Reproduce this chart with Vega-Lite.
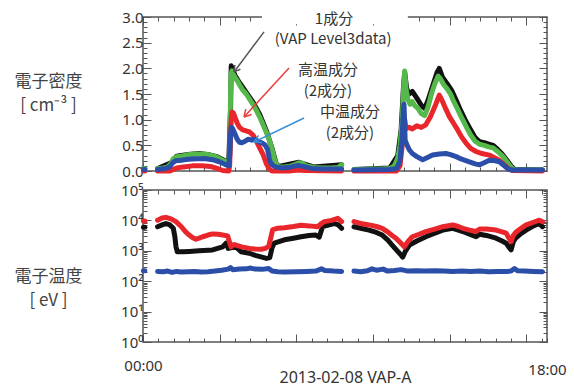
{
"$schema": "https://vega.github.io/schema/vega-lite/v6.json",
"padding": {"left": 13, "top": 9, "right": 0, "bottom": 0},
"bounds": "flush",
"spacing": 19,
"config": {
  "view": {"stroke": "#555555", "strokeWidth": 1.5},
  "axis": {"domain": false, "grid": false, "labelFont": "Noto Sans", "labelFontSize": 15, "labelColor": "#333333", "tickColor": "#555555", "tickWidth": 1, "titleFont": "Noto Sans CJK JP", "titleFontWeight": "normal", "titleColor": "#333333", "labelFlush": false, "labelOverlap": false},
  "text": {"font": "Noto Sans CJK JP"}
},
"datasets": {
"top": [
{"s":"k","p":1,"h":0.02,"v":0.05},{"s":"k","p":1,"h":0.08,"v":0.05},
{"s":"k","p":2,"h":0.65,"v":0.05},{"s":"k","p":2,"h":1.25,"v":0.16},{"s":"k","p":2,"h":1.5,"v":0.29},{"s":"k","p":2,"h":2.0,"v":0.32},{"s":"k","p":2,"h":2.5,"v":0.34},{"s":"k","p":2,"h":3.0,"v":0.31},{"s":"k","p":2,"h":3.3,"v":0.28},{"s":"k","p":2,"h":3.82,"v":0.16},{"s":"k","p":2,"h":3.9,"v":1.2},{"s":"k","p":2,"h":3.93,"v":2.05},{"s":"k","p":2,"h":3.97,"v":2.0},{"s":"k","p":2,"h":4.1,"v":1.86},{"s":"k","p":2,"h":4.3,"v":1.72},{"s":"k","p":2,"h":4.6,"v":1.53},{"s":"k","p":2,"h":4.9,"v":1.34},{"s":"k","p":2,"h":5.2,"v":1.1},{"s":"k","p":2,"h":5.5,"v":0.78},{"s":"k","p":2,"h":5.75,"v":0.44},{"s":"k","p":2,"h":5.93,"v":0.15},{"s":"k","p":2,"h":6.05,"v":0.09},{"s":"k","p":2,"h":6.95,"v":0.17},{"s":"k","p":2,"h":7.6,"v":0.08},{"s":"k","p":2,"h":8.85,"v":0.12},
{"s":"k","p":3,"h":9.4,"v":0.03},{"s":"k","p":3,"h":11.0,"v":0.06},{"s":"k","p":3,"h":11.35,"v":0.3},{"s":"k","p":3,"h":11.5,"v":0.8},{"s":"k","p":3,"h":11.6,"v":1.6},{"s":"k","p":3,"h":11.66,"v":1.92},{"s":"k","p":3,"h":11.75,"v":1.6},{"s":"k","p":3,"h":11.85,"v":1.5},{"s":"k","p":3,"h":12.0,"v":1.55},{"s":"k","p":3,"h":12.2,"v":1.42},{"s":"k","p":3,"h":12.4,"v":1.28},{"s":"k","p":3,"h":12.55,"v":1.22},{"s":"k","p":3,"h":12.7,"v":1.38},{"s":"k","p":3,"h":12.9,"v":1.65},{"s":"k","p":3,"h":13.1,"v":1.92},{"s":"k","p":3,"h":13.2,"v":2.0},{"s":"k","p":3,"h":13.35,"v":1.82},{"s":"k","p":3,"h":13.55,"v":1.7},{"s":"k","p":3,"h":13.75,"v":1.57},{"s":"k","p":3,"h":13.95,"v":1.38},{"s":"k","p":3,"h":14.15,"v":1.18},{"s":"k","p":3,"h":14.35,"v":1.0},{"s":"k","p":3,"h":14.55,"v":0.84},{"s":"k","p":3,"h":14.8,"v":0.65},{"s":"k","p":3,"h":15.0,"v":0.57},{"s":"k","p":3,"h":15.3,"v":0.54},{"s":"k","p":3,"h":15.6,"v":0.5},{"s":"k","p":3,"h":15.8,"v":0.42},{"s":"k","p":3,"h":16.0,"v":0.33},{"s":"k","p":3,"h":16.2,"v":0.22},{"s":"k","p":3,"h":16.4,"v":0.1},{"s":"k","p":3,"h":16.55,"v":0.03},{"s":"k","p":3,"h":17.8,"v":0.02},
{"s":"g","p":1,"h":0.02,"v":0.05},{"s":"g","p":1,"h":0.08,"v":0.05},
{"s":"g","p":2,"h":0.65,"v":0.05},{"s":"g","p":2,"h":0.9,"v":0.06},{"s":"g","p":2,"h":1.1,"v":0.08},{"s":"g","p":2,"h":1.25,"v":0.15},{"s":"g","p":2,"h":1.35,"v":0.24},{"s":"g","p":2,"h":1.5,"v":0.28},{"s":"g","p":2,"h":1.7,"v":0.29},{"s":"g","p":2,"h":1.9,"v":0.31},{"s":"g","p":2,"h":2.1,"v":0.32},{"s":"g","p":2,"h":2.3,"v":0.33},{"s":"g","p":2,"h":2.5,"v":0.33},{"s":"g","p":2,"h":2.7,"v":0.33},{"s":"g","p":2,"h":2.9,"v":0.32},{"s":"g","p":2,"h":3.1,"v":0.3},{"s":"g","p":2,"h":3.3,"v":0.27},{"s":"g","p":2,"h":3.5,"v":0.22},{"s":"g","p":2,"h":3.7,"v":0.18},{"s":"g","p":2,"h":3.82,"v":0.15},{"s":"g","p":2,"h":3.86,"v":0.3},{"s":"g","p":2,"h":3.88,"v":0.8},{"s":"g","p":2,"h":3.9,"v":1.5},{"s":"g","p":2,"h":3.92,"v":1.88},{"s":"g","p":2,"h":3.96,"v":1.95},{"s":"g","p":2,"h":4.0,"v":1.9},{"s":"g","p":2,"h":4.1,"v":1.82},{"s":"g","p":2,"h":4.2,"v":1.76},{"s":"g","p":2,"h":4.3,"v":1.68},{"s":"g","p":2,"h":4.44,"v":1.58},{"s":"g","p":2,"h":4.6,"v":1.5},{"s":"g","p":2,"h":4.75,"v":1.4},{"s":"g","p":2,"h":4.9,"v":1.3},{"s":"g","p":2,"h":5.04,"v":1.19},{"s":"g","p":2,"h":5.2,"v":1.05},{"s":"g","p":2,"h":5.35,"v":0.9},{"s":"g","p":2,"h":5.5,"v":0.75},{"s":"g","p":2,"h":5.63,"v":0.6},{"s":"g","p":2,"h":5.75,"v":0.42},{"s":"g","p":2,"h":5.85,"v":0.25},{"s":"g","p":2,"h":5.93,"v":0.14},{"s":"g","p":2,"h":6.05,"v":0.08},{"s":"g","p":2,"h":6.3,"v":0.08},{"s":"g","p":2,"h":6.6,"v":0.1},{"s":"g","p":2,"h":6.8,"v":0.13},{"s":"g","p":2,"h":6.95,"v":0.16},{"s":"g","p":2,"h":7.1,"v":0.15},{"s":"g","p":2,"h":7.3,"v":0.1},{"s":"g","p":2,"h":7.6,"v":0.07},{"s":"g","p":2,"h":8.0,"v":0.06},{"s":"g","p":2,"h":8.4,"v":0.06},{"s":"g","p":2,"h":8.7,"v":0.07},{"s":"g","p":2,"h":8.85,"v":0.12},
{"s":"g","p":3,"h":9.4,"v":0.03},{"s":"g","p":3,"h":9.8,"v":0.03},{"s":"g","p":3,"h":10.2,"v":0.04},{"s":"g","p":3,"h":10.6,"v":0.04},{"s":"g","p":3,"h":11.0,"v":0.05},{"s":"g","p":3,"h":11.2,"v":0.1},{"s":"g","p":3,"h":11.35,"v":0.25},{"s":"g","p":3,"h":11.45,"v":0.5},{"s":"g","p":3,"h":11.55,"v":1.0},{"s":"g","p":3,"h":11.62,"v":1.7},{"s":"g","p":3,"h":11.66,"v":1.95},{"s":"g","p":3,"h":11.72,"v":1.6},{"s":"g","p":3,"h":11.8,"v":1.4},{"s":"g","p":3,"h":11.9,"v":1.3},{"s":"g","p":3,"h":12.0,"v":1.35},{"s":"g","p":3,"h":12.1,"v":1.28},{"s":"g","p":3,"h":12.25,"v":1.22},{"s":"g","p":3,"h":12.4,"v":1.12},{"s":"g","p":3,"h":12.55,"v":1.08},{"s":"g","p":3,"h":12.7,"v":1.25},{"s":"g","p":3,"h":12.85,"v":1.5},{"s":"g","p":3,"h":13.0,"v":1.7},{"s":"g","p":3,"h":13.15,"v":1.85},{"s":"g","p":3,"h":13.25,"v":1.8},{"s":"g","p":3,"h":13.4,"v":1.68},{"s":"g","p":3,"h":13.55,"v":1.6},{"s":"g","p":3,"h":13.7,"v":1.5},{"s":"g","p":3,"h":13.85,"v":1.35},{"s":"g","p":3,"h":14.0,"v":1.22},{"s":"g","p":3,"h":14.15,"v":1.08},{"s":"g","p":3,"h":14.3,"v":0.95},{"s":"g","p":3,"h":14.45,"v":0.82},{"s":"g","p":3,"h":14.6,"v":0.7},{"s":"g","p":3,"h":14.8,"v":0.58},{"s":"g","p":3,"h":15.0,"v":0.52},{"s":"g","p":3,"h":15.2,"v":0.5},{"s":"g","p":3,"h":15.4,"v":0.47},{"s":"g","p":3,"h":15.6,"v":0.45},{"s":"g","p":3,"h":15.8,"v":0.38},{"s":"g","p":3,"h":16.0,"v":0.3},{"s":"g","p":3,"h":16.15,"v":0.22},{"s":"g","p":3,"h":16.3,"v":0.13},{"s":"g","p":3,"h":16.45,"v":0.05},{"s":"g","p":3,"h":16.6,"v":0.02},{"s":"g","p":3,"h":17.0,"v":0.02},{"s":"g","p":3,"h":17.4,"v":0.02},{"s":"g","p":3,"h":17.8,"v":0.02},
{"s":"r","p":1,"h":0.02,"v":0.0},{"s":"r","p":1,"h":0.08,"v":0.0},
{"s":"r","p":2,"h":0.65,"v":0.0},{"s":"r","p":2,"h":1.2,"v":0.0},{"s":"r","p":2,"h":1.35,"v":0.03},{"s":"r","p":2,"h":1.5,"v":0.06},{"s":"r","p":2,"h":1.8,"v":0.08},{"s":"r","p":2,"h":2.2,"v":0.1},{"s":"r","p":2,"h":2.6,"v":0.1},{"s":"r","p":2,"h":3.0,"v":0.09},{"s":"r","p":2,"h":3.3,"v":0.05},{"s":"r","p":2,"h":3.55,"v":0.01},{"s":"r","p":2,"h":3.82,"v":0.0},{"s":"r","p":2,"h":3.86,"v":0.1},{"s":"r","p":2,"h":3.9,"v":0.6},{"s":"r","p":2,"h":3.93,"v":1.0},{"s":"r","p":2,"h":3.97,"v":1.15},{"s":"r","p":2,"h":4.03,"v":1.13},{"s":"r","p":2,"h":4.12,"v":1.02},{"s":"r","p":2,"h":4.2,"v":0.93},{"s":"r","p":2,"h":4.3,"v":0.85},{"s":"r","p":2,"h":4.45,"v":0.8},{"s":"r","p":2,"h":4.6,"v":0.78},{"s":"r","p":2,"h":4.75,"v":0.76},{"s":"r","p":2,"h":4.9,"v":0.7},{"s":"r","p":2,"h":5.05,"v":0.58},{"s":"r","p":2,"h":5.2,"v":0.45},{"s":"r","p":2,"h":5.35,"v":0.32},{"s":"r","p":2,"h":5.5,"v":0.14},{"s":"r","p":2,"h":5.62,"v":0.04},{"s":"r","p":2,"h":5.75,"v":0.0},{"s":"r","p":2,"h":6.5,"v":0.0},{"s":"r","p":2,"h":6.9,"v":0.02},{"s":"r","p":2,"h":7.2,"v":0.01},{"s":"r","p":2,"h":8.85,"v":0.0},
{"s":"r","p":3,"h":9.4,"v":0.0},{"s":"r","p":3,"h":11.3,"v":0.0},{"s":"r","p":3,"h":11.45,"v":0.1},{"s":"r","p":3,"h":11.55,"v":0.5},{"s":"r","p":3,"h":11.62,"v":0.9},{"s":"r","p":3,"h":11.66,"v":1.0},{"s":"r","p":3,"h":11.72,"v":0.82},{"s":"r","p":3,"h":11.85,"v":0.85},{"s":"r","p":3,"h":12.0,"v":0.82},{"s":"r","p":3,"h":12.2,"v":0.88},{"s":"r","p":3,"h":12.4,"v":0.85},{"s":"r","p":3,"h":12.6,"v":0.9},{"s":"r","p":3,"h":12.8,"v":1.05},{"s":"r","p":3,"h":13.0,"v":1.25},{"s":"r","p":3,"h":13.2,"v":1.48},{"s":"r","p":3,"h":13.35,"v":1.35},{"s":"r","p":3,"h":13.5,"v":1.2},{"s":"r","p":3,"h":13.65,"v":1.06},{"s":"r","p":3,"h":13.85,"v":0.92},{"s":"r","p":3,"h":14.02,"v":0.8},{"s":"r","p":3,"h":14.2,"v":0.66},{"s":"r","p":3,"h":14.4,"v":0.54},{"s":"r","p":3,"h":14.6,"v":0.44},{"s":"r","p":3,"h":14.84,"v":0.38},{"s":"r","p":3,"h":15.1,"v":0.34},{"s":"r","p":3,"h":15.43,"v":0.31},{"s":"r","p":3,"h":15.7,"v":0.25},{"s":"r","p":3,"h":15.9,"v":0.2},{"s":"r","p":3,"h":16.1,"v":0.12},{"s":"r","p":3,"h":16.3,"v":0.04},{"s":"r","p":3,"h":16.45,"v":0.01},{"s":"r","p":3,"h":17.8,"v":0.0},
{"s":"b","p":1,"h":0.02,"v":0.03},{"s":"b","p":1,"h":0.08,"v":0.03},
{"s":"b","p":2,"h":0.65,"v":0.03},{"s":"b","p":2,"h":1.0,"v":0.05},{"s":"b","p":2,"h":1.2,"v":0.08},{"s":"b","p":2,"h":1.3,"v":0.15},{"s":"b","p":2,"h":1.45,"v":0.2},{"s":"b","p":2,"h":1.7,"v":0.21},{"s":"b","p":2,"h":2.0,"v":0.23},{"s":"b","p":2,"h":2.4,"v":0.24},{"s":"b","p":2,"h":2.8,"v":0.24},{"s":"b","p":2,"h":3.1,"v":0.22},{"s":"b","p":2,"h":3.4,"v":0.18},{"s":"b","p":2,"h":3.65,"v":0.13},{"s":"b","p":2,"h":3.82,"v":0.1},{"s":"b","p":2,"h":3.86,"v":0.3},{"s":"b","p":2,"h":3.9,"v":0.7},{"s":"b","p":2,"h":3.93,"v":0.85},{"s":"b","p":2,"h":4.0,"v":0.82},{"s":"b","p":2,"h":4.1,"v":0.72},{"s":"b","p":2,"h":4.2,"v":0.62},{"s":"b","p":2,"h":4.3,"v":0.56},{"s":"b","p":2,"h":4.4,"v":0.55},{"s":"b","p":2,"h":4.55,"v":0.58},{"s":"b","p":2,"h":4.7,"v":0.62},{"s":"b","p":2,"h":4.85,"v":0.6},{"s":"b","p":2,"h":5.0,"v":0.62},{"s":"b","p":2,"h":5.15,"v":0.57},{"s":"b","p":2,"h":5.3,"v":0.55},{"s":"b","p":2,"h":5.45,"v":0.5},{"s":"b","p":2,"h":5.55,"v":0.42},{"s":"b","p":2,"h":5.65,"v":0.2},{"s":"b","p":2,"h":5.75,"v":0.12},{"s":"b","p":2,"h":5.9,"v":0.08},{"s":"b","p":2,"h":6.2,"v":0.06},{"s":"b","p":2,"h":6.6,"v":0.08},{"s":"b","p":2,"h":6.9,"v":0.11},{"s":"b","p":2,"h":7.15,"v":0.09},{"s":"b","p":2,"h":7.5,"v":0.05},{"s":"b","p":2,"h":8.0,"v":0.04},{"s":"b","p":2,"h":8.5,"v":0.04},{"s":"b","p":2,"h":8.85,"v":0.04},
{"s":"b","p":3,"h":9.4,"v":0.02},{"s":"b","p":3,"h":11.0,"v":0.03},{"s":"b","p":3,"h":11.3,"v":0.05},{"s":"b","p":3,"h":11.45,"v":0.2},{"s":"b","p":3,"h":11.55,"v":0.7},{"s":"b","p":3,"h":11.6,"v":1.2},{"s":"b","p":3,"h":11.63,"v":1.3},{"s":"b","p":3,"h":11.68,"v":0.6},{"s":"b","p":3,"h":11.75,"v":0.52},{"s":"b","p":3,"h":11.87,"v":0.41},{"s":"b","p":3,"h":12.0,"v":0.34},{"s":"b","p":3,"h":12.2,"v":0.28},{"s":"b","p":3,"h":12.46,"v":0.22},{"s":"b","p":3,"h":12.7,"v":0.27},{"s":"b","p":3,"h":12.9,"v":0.31},{"s":"b","p":3,"h":13.2,"v":0.33},{"s":"b","p":3,"h":13.5,"v":0.34},{"s":"b","p":3,"h":13.7,"v":0.32},{"s":"b","p":3,"h":13.95,"v":0.28},{"s":"b","p":3,"h":14.2,"v":0.23},{"s":"b","p":3,"h":14.54,"v":0.18},{"s":"b","p":3,"h":14.8,"v":0.14},{"s":"b","p":3,"h":15.0,"v":0.12},{"s":"b","p":3,"h":15.2,"v":0.16},{"s":"b","p":3,"h":15.43,"v":0.21},{"s":"b","p":3,"h":15.7,"v":0.2},{"s":"b","p":3,"h":15.88,"v":0.18},{"s":"b","p":3,"h":16.1,"v":0.1},{"s":"b","p":3,"h":16.3,"v":0.03},{"s":"b","p":3,"h":16.5,"v":0.02},{"s":"b","p":3,"h":17.8,"v":0.02}
],
"bot": [
{"s":"k","p":1,"h":0.02,"t":6000},{"s":"k","p":1,"h":0.08,"t":6000},
{"s":"k","p":2,"h":0.65,"t":6200},{"s":"k","p":2,"h":0.85,"t":7100},{"s":"k","p":2,"h":1.02,"t":7900},{"s":"k","p":2,"h":1.2,"t":7100},{"s":"k","p":2,"h":1.35,"t":5500},{"s":"k","p":2,"h":1.42,"t":2900},{"s":"k","p":2,"h":1.47,"t":1350},{"s":"k","p":2,"h":1.53,"t":930},{"s":"k","p":2,"h":1.8,"t":930},{"s":"k","p":2,"h":2.06,"t":950},{"s":"k","p":2,"h":2.5,"t":1000},{"s":"k","p":2,"h":3.1,"t":1070},{"s":"k","p":2,"h":3.55,"t":1350},{"s":"k","p":2,"h":3.7,"t":1780},{"s":"k","p":2,"h":3.8,"t":1200},{"s":"k","p":2,"h":3.92,"t":1260},{"s":"k","p":2,"h":4.14,"t":1350},{"s":"k","p":2,"h":4.37,"t":930},{"s":"k","p":2,"h":4.74,"t":830},{"s":"k","p":2,"h":5.0,"t":710},{"s":"k","p":2,"h":5.26,"t":630},{"s":"k","p":2,"h":5.5,"t":560},{"s":"k","p":2,"h":5.65,"t":600},{"s":"k","p":2,"h":5.75,"t":1260},{"s":"k","p":2,"h":5.85,"t":1780},{"s":"k","p":2,"h":6.3,"t":2300},{"s":"k","p":2,"h":6.7,"t":2600},{"s":"k","p":2,"h":7.04,"t":2900},{"s":"k","p":2,"h":7.4,"t":3200},{"s":"k","p":2,"h":7.7,"t":3300},{"s":"k","p":2,"h":7.85,"t":2800},{"s":"k","p":2,"h":8.0,"t":6200},{"s":"k","p":2,"h":8.3,"t":7200},{"s":"k","p":2,"h":8.53,"t":7900},{"s":"k","p":2,"h":8.7,"t":7100},{"s":"k","p":2,"h":8.85,"t":5500},
{"s":"k","p":3,"h":9.4,"t":6200},{"s":"k","p":3,"h":9.7,"t":5500},{"s":"k","p":3,"h":10.07,"t":4800},{"s":"k","p":3,"h":10.4,"t":4000},{"s":"k","p":3,"h":10.66,"t":3300},{"s":"k","p":3,"h":10.9,"t":2300},{"s":"k","p":3,"h":11.1,"t":1550},{"s":"k","p":3,"h":11.3,"t":1050},{"s":"k","p":3,"h":11.5,"t":720},{"s":"k","p":3,"h":11.57,"t":620},{"s":"k","p":3,"h":11.7,"t":1000},{"s":"k","p":3,"h":11.87,"t":1550},{"s":"k","p":3,"h":12.2,"t":2100},{"s":"k","p":3,"h":12.6,"t":2900},{"s":"k","p":3,"h":13.0,"t":3800},{"s":"k","p":3,"h":13.36,"t":4800},{"s":"k","p":3,"h":13.8,"t":5500},{"s":"k","p":3,"h":14.05,"t":4800},{"s":"k","p":3,"h":14.25,"t":4300},{"s":"k","p":3,"h":14.55,"t":3500},{"s":"k","p":3,"h":14.84,"t":2900},{"s":"k","p":3,"h":15.0,"t":3500},{"s":"k","p":3,"h":15.3,"t":3200},{"s":"k","p":3,"h":15.73,"t":2600},{"s":"k","p":3,"h":16.0,"t":2100},{"s":"k","p":3,"h":16.18,"t":1780},{"s":"k","p":3,"h":16.32,"t":1260},{"s":"k","p":3,"h":16.4,"t":1070},{"s":"k","p":3,"h":16.5,"t":2000},{"s":"k","p":3,"h":16.6,"t":2600},{"s":"k","p":3,"h":16.8,"t":3500},{"s":"k","p":3,"h":17.07,"t":4800},{"s":"k","p":3,"h":17.4,"t":6600},{"s":"k","p":3,"h":17.66,"t":7900},{"s":"k","p":3,"h":17.8,"t":6200},
{"s":"r","p":1,"h":0.02,"t":9500},{"s":"r","p":1,"h":0.08,"t":9500},
{"s":"r","p":2,"h":0.65,"t":10200},{"s":"r","p":2,"h":0.85,"t":12000},{"s":"r","p":2,"h":1.02,"t":12600},{"s":"r","p":2,"h":1.25,"t":11200},{"s":"r","p":2,"h":1.47,"t":9100},{"s":"r","p":2,"h":1.7,"t":6300},{"s":"r","p":2,"h":1.9,"t":4200},{"s":"r","p":2,"h":2.06,"t":3300},{"s":"r","p":2,"h":2.2,"t":2750},{"s":"r","p":2,"h":2.36,"t":2400},{"s":"r","p":2,"h":2.5,"t":2600},{"s":"r","p":2,"h":2.66,"t":2900},{"s":"r","p":2,"h":2.9,"t":3300},{"s":"r","p":2,"h":3.1,"t":3600},{"s":"r","p":2,"h":3.35,"t":3500},{"s":"r","p":2,"h":3.55,"t":3300},{"s":"r","p":2,"h":3.77,"t":3100},{"s":"r","p":2,"h":3.85,"t":2000},{"s":"r","p":2,"h":3.92,"t":1350},{"s":"r","p":2,"h":4.05,"t":1600},{"s":"r","p":2,"h":4.14,"t":1550},{"s":"r","p":2,"h":4.4,"t":1350},{"s":"r","p":2,"h":4.74,"t":1200},{"s":"r","p":2,"h":5.0,"t":1150},{"s":"r","p":2,"h":5.26,"t":1120},{"s":"r","p":2,"h":5.45,"t":1200},{"s":"r","p":2,"h":5.6,"t":1400},{"s":"r","p":2,"h":5.7,"t":2800},{"s":"r","p":2,"h":5.78,"t":5000},{"s":"r","p":2,"h":6.0,"t":5500},{"s":"r","p":2,"h":6.3,"t":5750},{"s":"r","p":2,"h":6.7,"t":6300},{"s":"r","p":2,"h":7.04,"t":6900},{"s":"r","p":2,"h":7.4,"t":6600},{"s":"r","p":2,"h":7.78,"t":6200},{"s":"r","p":2,"h":7.95,"t":7900},{"s":"r","p":2,"h":8.08,"t":9100},{"s":"r","p":2,"h":8.4,"t":10000},{"s":"r","p":2,"h":8.68,"t":11700},{"s":"r","p":2,"h":8.85,"t":9100},
{"s":"r","p":3,"h":9.4,"t":9100},{"s":"r","p":3,"h":9.7,"t":7900},{"s":"r","p":3,"h":10.07,"t":7100},{"s":"r","p":3,"h":10.4,"t":6300},{"s":"r","p":3,"h":10.66,"t":5500},{"s":"r","p":3,"h":10.9,"t":4200},{"s":"r","p":3,"h":11.1,"t":3200},{"s":"r","p":3,"h":11.27,"t":2600},{"s":"r","p":3,"h":11.45,"t":1900},{"s":"r","p":3,"h":11.64,"t":1350},{"s":"r","p":3,"h":11.8,"t":2000},{"s":"r","p":3,"h":12.0,"t":2900},{"s":"r","p":3,"h":12.3,"t":3500},{"s":"r","p":3,"h":12.6,"t":4300},{"s":"r","p":3,"h":13.0,"t":5200},{"s":"r","p":3,"h":13.36,"t":6200},{"s":"r","p":3,"h":13.8,"t":7100},{"s":"r","p":3,"h":14.05,"t":6300},{"s":"r","p":3,"h":14.25,"t":5500},{"s":"r","p":3,"h":14.55,"t":4800},{"s":"r","p":3,"h":14.84,"t":4300},{"s":"r","p":3,"h":15.0,"t":5200},{"s":"r","p":3,"h":15.3,"t":5200},{"s":"r","p":3,"h":15.73,"t":4800},{"s":"r","p":3,"h":16.0,"t":4200},{"s":"r","p":3,"h":16.18,"t":3800},{"s":"r","p":3,"h":16.32,"t":2500},{"s":"r","p":3,"h":16.4,"t":2000},{"s":"r","p":3,"h":16.5,"t":3200},{"s":"r","p":3,"h":16.6,"t":4000},{"s":"r","p":3,"h":16.8,"t":5200},{"s":"r","p":3,"h":17.07,"t":7100},{"s":"r","p":3,"h":17.4,"t":8700},{"s":"r","p":3,"h":17.66,"t":10200},{"s":"r","p":3,"h":17.8,"t":9100},
{"s":"b","p":1,"h":0.02,"t":220},{"s":"b","p":1,"h":0.08,"t":220},
{"s":"b","p":2,"h":0.65,"t":210},{"s":"b","p":2,"h":0.9,"t":205},{"s":"b","p":2,"h":1.1,"t":215},{"s":"b","p":2,"h":1.3,"t":195},{"s":"b","p":2,"h":1.5,"t":210},{"s":"b","p":2,"h":1.7,"t":200},{"s":"b","p":2,"h":2.0,"t":205},{"s":"b","p":2,"h":2.3,"t":210},{"s":"b","p":2,"h":2.6,"t":200},{"s":"b","p":2,"h":2.9,"t":205},{"s":"b","p":2,"h":3.2,"t":215},{"s":"b","p":2,"h":3.5,"t":230},{"s":"b","p":2,"h":3.8,"t":250},{"s":"b","p":2,"h":3.9,"t":280},{"s":"b","p":2,"h":4.0,"t":240},{"s":"b","p":2,"h":4.3,"t":250},{"s":"b","p":2,"h":4.6,"t":255},{"s":"b","p":2,"h":4.8,"t":270},{"s":"b","p":2,"h":5.0,"t":250},{"s":"b","p":2,"h":5.3,"t":245},{"s":"b","p":2,"h":5.6,"t":260},{"s":"b","p":2,"h":5.75,"t":215},{"s":"b","p":2,"h":6.0,"t":205},{"s":"b","p":2,"h":6.3,"t":200},{"s":"b","p":2,"h":6.8,"t":205},{"s":"b","p":2,"h":7.3,"t":210},{"s":"b","p":2,"h":7.7,"t":215},{"s":"b","p":2,"h":7.95,"t":255},{"s":"b","p":2,"h":8.1,"t":225},{"s":"b","p":2,"h":8.5,"t":215},{"s":"b","p":2,"h":8.85,"t":210},
{"s":"b","p":3,"h":9.4,"t":215},{"s":"b","p":3,"h":9.7,"t":205},{"s":"b","p":3,"h":10.0,"t":220},{"s":"b","p":3,"h":10.2,"t":255},{"s":"b","p":3,"h":10.4,"t":230},{"s":"b","p":3,"h":10.7,"t":250},{"s":"b","p":3,"h":10.9,"t":215},{"s":"b","p":3,"h":11.2,"t":225},{"s":"b","p":3,"h":11.5,"t":240},{"s":"b","p":3,"h":11.8,"t":215},{"s":"b","p":3,"h":12.2,"t":220},{"s":"b","p":3,"h":12.6,"t":215},{"s":"b","p":3,"h":13.0,"t":220},{"s":"b","p":3,"h":13.4,"t":215},{"s":"b","p":3,"h":13.8,"t":210},{"s":"b","p":3,"h":14.2,"t":215},{"s":"b","p":3,"h":14.6,"t":210},{"s":"b","p":3,"h":15.0,"t":215},{"s":"b","p":3,"h":15.4,"t":205},{"s":"b","p":3,"h":15.8,"t":210},{"s":"b","p":3,"h":16.2,"t":210},{"s":"b","p":3,"h":16.4,"t":215},{"s":"b","p":3,"h":16.55,"t":260},{"s":"b","p":3,"h":16.7,"t":220},{"s":"b","p":3,"h":17.0,"t":215},{"s":"b","p":3,"h":17.4,"t":210},{"s":"b","p":3,"h":17.8,"t":205}
],
"arrows": [
{"a":"k","x1":5.392,"y1":2.71,"x2":4.055,"y2":1.93},{"a":"k","x1":4.34,"y1":1.983,"x2":4.055,"y2":1.93},{"a":"k","x1":4.091,"y1":2.065,"x2":4.055,"y2":1.93},
{"a":"r","x1":6.506,"y1":2.008,"x2":4.501,"y2":1.053},{"a":"r","x1":4.84,"y1":1.099,"x2":4.501,"y2":1.053},{"a":"r","x1":4.58,"y1":1.205,"x2":4.501,"y2":1.053},
{"a":"b","x1":7.175,"y1":1.033,"x2":4.947,"y2":0.565},{"a":"b","x1":5.302,"y1":0.554,"x2":4.947,"y2":0.565},{"a":"b","x1":5.147,"y1":0.694,"x2":4.947,"y2":0.565}
],
"notes": [
{"label":"1成分","h":8.51,"v":2.96},
{"label":"(VAP Level3data)","h":8.47,"v":2.57},
{"label":"高温成分","h":8.24,"v":1.96},
{"label":"(2成分)","h":8.24,"v":1.56},
{"label":"中温成分","h":9.22,"v":1.15},
{"label":"(2成分)","h":9.22,"v":0.75}
],
"mask": [{"h1":5.3,"h2":11.8,"v1":2.86,"v2":3.12}]
},
"vconcat": [
{
 "width": 404, "height": 154,
 "resolve": {"axis": {"x": "independent", "y": "independent"}},
 "layer": [
  {"data": {"name": "top"}, "transform": [{"filter": "datum.s=='k'"}],
   "mark": {"type": "line", "color": "#111111", "strokeWidth": 5, "strokeCap": "round", "strokeJoin": "round"},
   "encoding": {
    "x": {"field": "h", "type": "quantitative", "scale": {"domain": [0, 18], "nice": false, "zero": false},
      "axis": {"orient": "bottom", "title": null, "labels": false,
        "values": [0,0.683333,1.366667,2.05,2.733333,3.416667,4.1,4.783333,5.466667,6.15,6.833333,7.516667,8.2,8.883333,9.566667,10.25,10.933333,11.616667,12.3,12.983333,13.666667,14.35,15.033333,15.716667,16.4,17.083333,17.766667],
        "tickSize": {"condition": {"test": "abs(datum.value/3.416667-round(datum.value/3.416667))<0.01", "value": -8}, "value": -4}}},
    "y": {"field": "v", "type": "quantitative", "scale": {"domain": [0, 3], "nice": false, "zero": false},
      "axis": {"orient": "left",
        "values": [0,0.1,0.2,0.3,0.4,0.5,0.6,0.7,0.8,0.9,1.0,1.1,1.2,1.3,1.4,1.5,1.6,1.7,1.8,1.9,2.0,2.1,2.2,2.3,2.4,2.5,2.6,2.7,2.8,2.9,3.0],
        "labelExpr": "abs(datum.value*2-round(datum.value*2))<0.001 ? format(datum.value,'.1f') : ''",
        "tickSize": {"condition": {"test": "abs(datum.value*2-round(datum.value*2))<0.001", "value": -8}, "value": -4},
        "labelPadding": 8,
        "title": ["電子密度", "[ cm⁻³ ]"], "titleAngle": 0, "titleX": -95, "titleY": 64, "titleAlign": "center", "titleBaseline": "middle", "titleFontSize": 17, "titleLineHeight": 24, "titleColor": "#444444"}},
    "detail": {"field": "p"}}},
  {"data": {"name": "top"}, "transform": [{"filter": "datum.s=='g'"}],
   "mark": {"type": "line", "color": "#55b84a", "strokeWidth": 5, "strokeCap": "round", "strokeJoin": "round"},
   "encoding": {
    "x": {"field": "h", "type": "quantitative",
      "axis": {"orient": "top", "title": null, "labels": false,
        "values": [0,0.683333,1.366667,2.05,2.733333,3.416667,4.1,4.783333,5.466667,6.15,6.833333,7.516667,8.2,8.883333,9.566667,10.25,10.933333,11.616667,12.3,12.983333,13.666667,14.35,15.033333,15.716667,16.4,17.083333,17.766667],
        "tickSize": {"condition": {"test": "abs(datum.value/3.416667-round(datum.value/3.416667))<0.01", "value": -8}, "value": -4}}},
    "y": {"field": "v", "type": "quantitative",
      "axis": {"orient": "right", "title": null, "labels": false,
        "values": [0,0.1,0.2,0.3,0.4,0.5,0.6,0.7,0.8,0.9,1.0,1.1,1.2,1.3,1.4,1.5,1.6,1.7,1.8,1.9,2.0,2.1,2.2,2.3,2.4,2.5,2.6,2.7,2.8,2.9,3.0],
        "tickSize": {"condition": {"test": "abs(datum.value*2-round(datum.value*2))<0.001", "value": -8}, "value": -4}}},
    "detail": {"field": "p"}}},
  {"data": {"name": "top"}, "transform": [{"filter": "datum.s=='r'"}],
   "mark": {"type": "line", "color": "#e8262b", "strokeWidth": 5, "strokeCap": "round", "strokeJoin": "round"},
   "encoding": {"x": {"field": "h", "type": "quantitative", "axis": null}, "y": {"field": "v", "type": "quantitative", "axis": null}, "detail": {"field": "p"}}},
  {"data": {"name": "top"}, "transform": [{"filter": "datum.s=='b'"}],
   "mark": {"type": "line", "color": "#2b4ea8", "strokeWidth": 5, "strokeCap": "round", "strokeJoin": "round"},
   "encoding": {"x": {"field": "h", "type": "quantitative", "axis": null}, "y": {"field": "v", "type": "quantitative", "axis": null}, "detail": {"field": "p"}}},
  {"data": {"name": "mask"},
   "mark": {"type": "rect", "color": "white", "clip": false},
   "encoding": {"x": {"field": "h1", "type": "quantitative", "axis": null}, "x2": {"field": "h2"}, "y": {"field": "v1", "type": "quantitative", "axis": null}, "y2": {"field": "v2"}}},
  {"data": {"name": "arrows"},
   "mark": {"type": "rule", "strokeWidth": 1.5},
   "encoding": {"x": {"field": "x1", "type": "quantitative", "axis": null}, "x2": {"field": "x2"}, "y": {"field": "y1", "type": "quantitative", "axis": null}, "y2": {"field": "y2"},
     "color": {"field": "a", "type": "nominal", "scale": {"domain": ["k", "r", "b"], "range": ["#555555", "#ee3b3b", "#3b8fd6"]}, "legend": null}}},
  {"data": {"name": "notes"},
   "mark": {"type": "text", "color": "#333333", "align": "center", "baseline": "middle", "fontSize": 15},
   "encoding": {"x": {"field": "h", "type": "quantitative", "axis": null}, "y": {"field": "v", "type": "quantitative", "axis": null}, "text": {"field": "label"}}}
 ]
},
{
 "width": 404, "height": 152,
 "resolve": {"axis": {"x": "independent", "y": "independent"}},
 "layer": [
  {"data": {"name": "bot"}, "transform": [{"filter": "datum.s=='k'"}],
   "mark": {"type": "line", "color": "#111111", "strokeWidth": 5, "strokeCap": "round", "strokeJoin": "round"},
   "encoding": {
    "x": {"field": "h", "type": "quantitative", "scale": {"domain": [0, 18], "nice": false, "zero": false},
      "axis": {"orient": "bottom", "title": "2013-02-08 VAP-A", "titleFont": "Noto Sans", "titleFontSize": 16, "titlePadding": -8,
        "values": [0,0.683333,1.366667,2.05,2.733333,3.416667,4.1,4.783333,5.466667,6.15,6.833333,7.516667,8.2,8.883333,9.566667,10.25,10.933333,11.616667,12.3,12.983333,13.666667,14.35,15.033333,15.716667,16.4,17.083333,17.766667,18],
        "labelExpr": "datum.value==0 ? '00:00' : (datum.value==18 ? '18:00' : '')",
        "labelPadding": 24,
        "tickSize": {"condition": {"test": "abs(datum.value/3.416667-round(datum.value/3.416667))<0.01", "value": -8}, "value": -4}}},
    "y": {"field": "t", "type": "quantitative", "scale": {"type": "log", "domain": [1, 100000], "nice": false},
      "axis": {"orient": "left",
        "values": [1,2,3,4,5,6,7,8,9,10,20,30,40,50,60,70,80,90,100,200,300,400,500,600,700,800,900,1000,2000,3000,4000,5000,6000,7000,8000,9000,10000,20000,30000,40000,50000,60000,70000,80000,90000,100000],
        "labelExpr": "abs(log(datum.value)/LN10-round(log(datum.value)/LN10))<0.001 ? '10' + ['⁰','¹','²','³','⁴','⁵'][round(log(datum.value)/LN10)] : ''",
        "tickSize": {"condition": {"test": "abs(log(datum.value)/LN10-round(log(datum.value)/LN10))<0.001", "value": -8}, "value": -4},
        "labelPadding": 8,
        "title": ["電子温度", "[ eV ]"], "titleAngle": 0, "titleX": -95, "titleY": 86, "titleAlign": "center", "titleBaseline": "middle", "titleFontSize": 17, "titleLineHeight": 24, "titleColor": "#444444"}},
    "detail": {"field": "p"}}},
  {"data": {"name": "bot"}, "transform": [{"filter": "datum.s=='r'"}],
   "mark": {"type": "line", "color": "#e8262b", "strokeWidth": 5, "strokeCap": "round", "strokeJoin": "round"},
   "encoding": {
    "x": {"field": "h", "type": "quantitative",
      "axis": {"orient": "top", "title": null, "labels": false,
        "values": [0,0.683333,1.366667,2.05,2.733333,3.416667,4.1,4.783333,5.466667,6.15,6.833333,7.516667,8.2,8.883333,9.566667,10.25,10.933333,11.616667,12.3,12.983333,13.666667,14.35,15.033333,15.716667,16.4,17.083333,17.766667],
        "tickSize": {"condition": {"test": "abs(datum.value/3.416667-round(datum.value/3.416667))<0.01", "value": -8}, "value": -4}}},
    "y": {"field": "t", "type": "quantitative",
      "axis": {"orient": "right", "title": null, "labels": false,
        "values": [1,2,3,4,5,6,7,8,9,10,20,30,40,50,60,70,80,90,100,200,300,400,500,600,700,800,900,1000,2000,3000,4000,5000,6000,7000,8000,9000,10000,20000,30000,40000,50000,60000,70000,80000,90000,100000],
        "tickSize": {"condition": {"test": "abs(log(datum.value)/LN10-round(log(datum.value)/LN10))<0.001", "value": -8}, "value": -4}}},
    "detail": {"field": "p"}}},
  {"data": {"name": "bot"}, "transform": [{"filter": "datum.s=='b'"}],
   "mark": {"type": "line", "color": "#2b4ea8", "strokeWidth": 5, "strokeCap": "round", "strokeJoin": "round"},
   "encoding": {"x": {"field": "h", "type": "quantitative", "axis": null}, "y": {"field": "t", "type": "quantitative", "axis": null}, "detail": {"field": "p"}}}
 ]
}
]
}
